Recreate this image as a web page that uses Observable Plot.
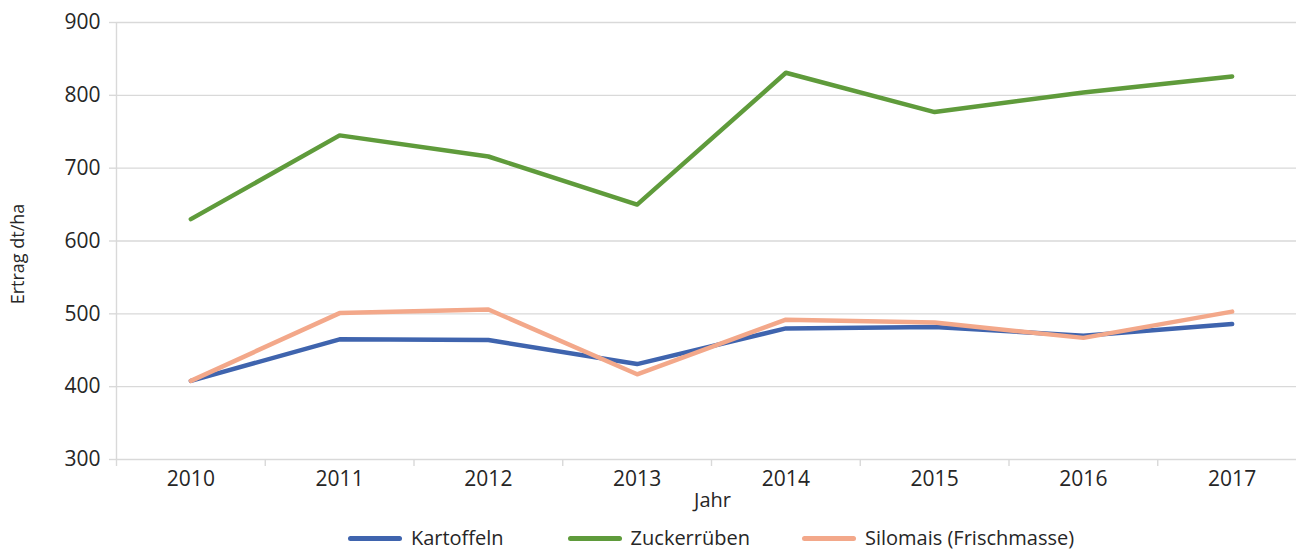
<!DOCTYPE html>
<html>
<head>
<meta charset="utf-8">
<script src="https://cdn.jsdelivr.net/npm/d3@7"></script>
<script src="https://cdn.jsdelivr.net/npm/@observablehq/plot@0.6"></script>
<style>
  html, body { margin: 0; padding: 0; background: #fff; }
  #chart { width: 1296px; height: 550px; overflow: hidden; position: relative; font-family: "Open Sans", sans-serif; color: #262626; }
  #legend { position: absolute; left: 0; top: 527px; width: 1296px; box-sizing: border-box; padding-left: 126px;
            display: flex; justify-content: center; align-items: center; font-size: 20px; line-height: 22px; }
  .item { display: flex; align-items: center; }
  .item:nth-child(1) { margin-right: 64px; }
  .item:nth-child(2) { margin-right: 52px; }
  .swatch { width: 54px; height: 5px; border-radius: 3px; margin-right: 9px; }
</style>
</head>
<body>
<div id="chart"></div>
<script>
const years = [2010, 2011, 2012, 2013, 2014, 2015, 2016, 2017];
const seriesNames = ["Kartoffeln", "Zuckerrüben", "Silomais (Frischmasse)"];
const kartoffeln = [408, 465, 464, 431, 480, 482, 470, 486];
const zuckerrueben = [630, 745, 716, 650, 831, 777, 804, 826];
const silomais = [408, 501, 506, 417, 492, 488, 467, 503];
const yTicks = [300, 400, 500, 600, 700, 800, 900];
const colors = ["#3F64AE", "#5F9B3B", "#F3A88A"];

const seriesValues = [kartoffeln, zuckerrueben, silomais];
const data = seriesNames.flatMap((name, i) => years.map((year, j) => ({series: name, year, value: seriesValues[i][j]})));
const boundaries = [...years.map(y => y - 0.5), years[years.length - 1] + 0.5];

const grid = "#d9d9d9";
const chart = Plot.plot({
  width: 1296,
  height: 520,
  marginLeft: 116,
  marginRight: 0,
  marginTop: 22,
  marginBottom: 61,
  x: {type: "linear", domain: [boundaries[0], boundaries[boundaries.length - 1]], range: [116, 1306]},
  y: {domain: [300, 900]},
  style: {fontFamily: "'Open Sans', sans-serif", fontSize: "21px", color: "#262626", background: "white", overflow: "hidden"},
  marks: [
    Plot.gridY({ticks: yTicks, stroke: grid, strokeOpacity: 1, strokeWidth: 1.4}),
    Plot.axisY({ticks: yTicks, tickSize: 7, tickPadding: 9, stroke: grid, strokeOpacity: 1, strokeWidth: 1.4, tickFormat: d => String(d), label: null}),
    Plot.ruleX([boundaries[0]], {stroke: grid, strokeWidth: 1.4}),
    Plot.axisX({ticks: boundaries, tickSize: 7, stroke: grid, strokeOpacity: 1, strokeWidth: 1.4, tickFormat: () => "", label: null}),
    Plot.axisX({ticks: years, tickSize: 0, tickPadding: 12, tickFormat: d => String(d), label: null}),
    ...seriesNames.map((name, i) => Plot.lineY(data.filter(d => d.series === name), {
      x: "year", y: "value", stroke: colors[i], strokeWidth: 4.5, strokeLinecap: "round", strokeLinejoin: "round"
    })),
    Plot.text(["Ertrag dt/ha"], {frameAnchor: "left", rotate: -90, dx: -98, dy: 13, fontSize: 18, textAnchor: "middle", lineAnchor: "middle", fill: "#262626"}),
    Plot.text(["Jahr"], {frameAnchor: "bottom", dx: 6, dy: 41, fontSize: 20, textAnchor: "middle", lineAnchor: "middle", fill: "#262626"})
  ]
});
const container = document.getElementById("chart");
container.appendChild(chart);

const legend = document.createElement("div");
legend.id = "legend";
seriesNames.forEach((name, i) => {
  const item = document.createElement("div");
  item.className = "item";
  const sw = document.createElement("span");
  sw.className = "swatch";
  sw.style.background = colors[i];
  const label = document.createElement("span");
  label.textContent = name;
  item.appendChild(sw);
  item.appendChild(label);
  legend.appendChild(item);
});
container.appendChild(legend);
</script>
</body>
</html>
